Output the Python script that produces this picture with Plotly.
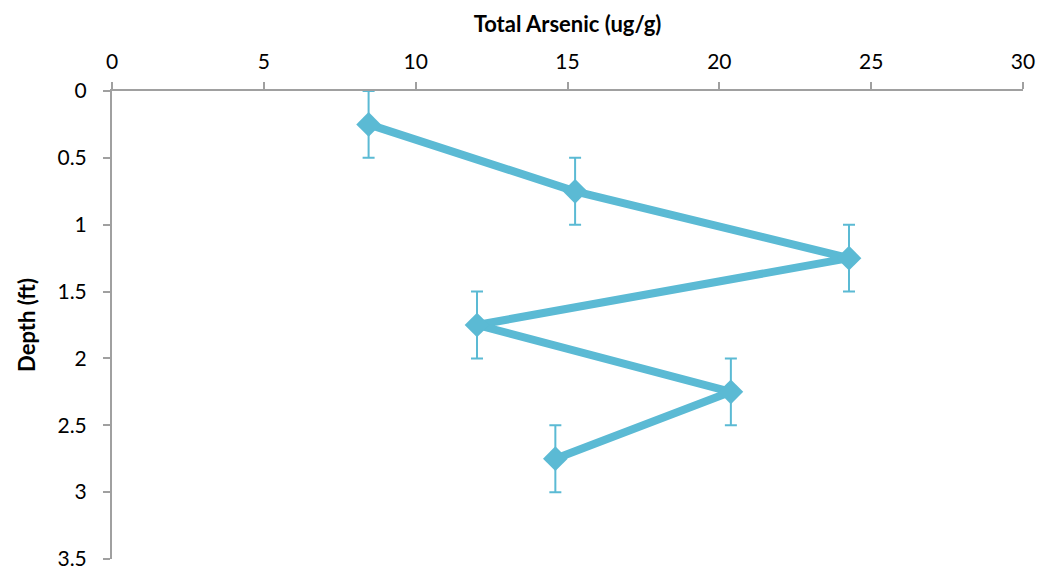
import plotly.graph_objects as go

arsenic = [8.45, 15.25, 24.27, 12.02, 20.38, 14.6]
depth = [0.25, 0.75, 1.25, 1.75, 2.25, 2.75]
depth_err = [0.25, 0.25, 0.25, 0.25, 0.25, 0.25]
x_ticks = [0, 5, 10, 15, 20, 25, 30]
y_ticks = [0, 0.5, 1, 1.5, 2, 2.5, 3, 3.5]

color = "#5BBAD4"
font = "Lato, 'Open Sans', sans-serif"

fig = go.Figure()
fig.add_trace(go.Scatter(
    x=arsenic, y=depth, mode="lines+markers",
    line=dict(color=color, width=8),
    marker=dict(symbol="diamond", size=19, color=color),
    error_y=dict(type="data", array=depth_err, visible=True, color=color, thickness=2, width=6),
    showlegend=False,
))

axis_common = dict(showgrid=False, zeroline=False, showline=True, linecolor="#A0A0A0", linewidth=2,
                   ticks="outside", tickcolor="#A0A0A0", tickwidth=2, ticklen=7,
                   automargin=False,
                   tickfont=dict(family=font, size=21, color="#000"))

fig.update_layout(
    width=1042, height=575,
    margin=dict(l=112, r=19, t=91, b=16),
    plot_bgcolor="white", paper_bgcolor="white",
    xaxis=dict(side="top", range=[0, 30], tickvals=x_ticks, ticktext=[str(v) for v in x_ticks],
               ticklabelstandoff=5,
               title=dict(text="<b>Total Arsenic (ug/g)</b>", font=dict(family=font, size=22, color="#000"), standoff=9),
               **axis_common),
    yaxis=dict(range=[3.5, 0], tickvals=y_ticks, ticktext=[f"{v:g}" for v in y_ticks],
               ticklabelstandoff=12,
               title=dict(text="<b>Depth (ft)</b>", font=dict(family=font, size=22, color="#000"), standoff=16),
               **axis_common),
)

fig.write_html("out.html")
